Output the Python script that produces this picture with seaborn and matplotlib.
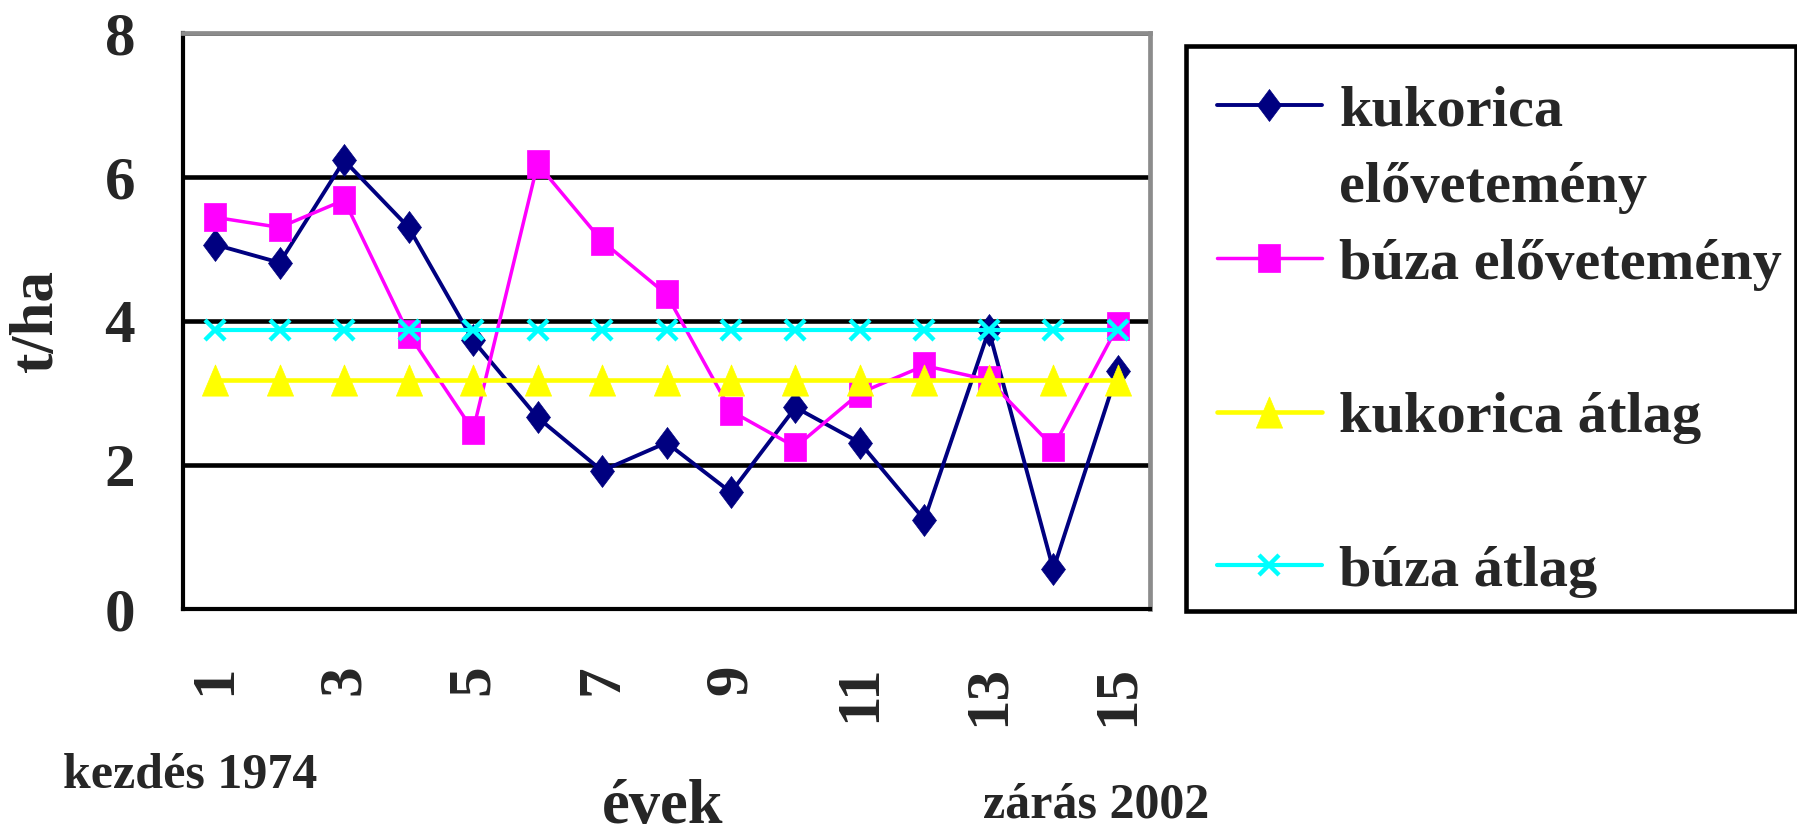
import matplotlib
matplotlib.use("Agg")
import matplotlib.pyplot as plt
import seaborn as sns
import numpy as np
from matplotlib.lines import Line2D
from matplotlib.legend_handler import HandlerLine2D

# ---- data ----
years = [1, 2, 3, 4, 5, 6, 7, 8, 9, 10, 11, 12, 13, 14, 15]
year_tick_labels = ["1", "", "3", "", "5", "", "7", "", "9", "", "11", "", "13", "", "15"]
kukorica_elovetemeny = [5.06, 4.81, 6.23, 5.30, 3.73, 2.66, 1.92, 2.31, 1.62, 2.80, 2.31, 1.24, 3.87, 0.55, 3.31]
buza_elovetemeny = [5.44, 5.30, 5.68, 3.82, 2.48, 6.18, 5.11, 4.37, 2.75, 2.25, 3.00, 3.38, 3.18, 2.25, 3.93]
kukorica_atlag = [3.18, 3.18, 3.18, 3.18, 3.18, 3.18, 3.18, 3.18, 3.18, 3.18, 3.18, 3.18, 3.18, 3.18, 3.18]
buza_atlag = [3.88, 3.88, 3.88, 3.88, 3.88, 3.88, 3.88, 3.88, 3.88, 3.88, 3.88, 3.88, 3.88, 3.88, 3.88]
y_ticks = [0, 2, 4, 6, 8]
series_labels = ["kukorica elővetemény", "búza elővetemény", "kukorica átlag", "búza átlag"]

sns.set_style("white")
plt.rcParams['font.family'] = ['Liberation Serif', 'DejaVu Serif']
plt.rcParams['font.weight'] = 'bold'

# slightly tall marker shapes, as in the (vertically stretched) original
tall_diamond = [(0, 1), (0.75, 0), (0, -1), (-0.75, 0), (0, 1)]
tall_square = [(-0.81, -1), (0.81, -1), (0.81, 1), (-0.81, 1), (-0.81, -1)]
tall_triangle = [(0, 1), (0.84, -1), (-0.84, -1), (0, 1)]

W, H = 1797, 839
fig = plt.figure(figsize=(W / 100, H / 100), dpi=100)
ax = fig.add_axes([183 / W, 1 - 609 / H, 967 / W, 576 / H])

styles = [
    (kukorica_elovetemeny, "#000080", tall_diamond, 23, 2.8),
    (buza_elovetemeny, "#FF00FF", tall_square, 19.5, 2.5),
    (kukorica_atlag, "#FFFF00", tall_triangle, 22.5, 3.3),
    (buza_atlag, "#00FFFF", "x", 14.5, 3.0),
]
handles = []
for (vals, col, mk, ms, lw), lab in zip(styles, series_labels):
    mew = 3.2 if isinstance(mk, str) else 0.5
    sns.lineplot(x=years, y=vals, ax=ax, color=col, marker=mk, markersize=ms,
                 markeredgecolor=col, markeredgewidth=mew, linewidth=lw,
                 legend=False)
    handles.append(ax.get_lines()[-1])

ax.set_xlim(0.5, 15.5)
ax.set_ylim(0, 8)

ax.set_xticks(years)
ax.set_xticklabels(year_tick_labels, rotation=90)
ax.set_xticks(np.arange(0.5, 16, 1), minor=True)
ax.tick_params(axis='x', which='major', length=0, pad=40, labelsize=44)
ax.tick_params(axis='x', which='minor', length=16, width=2.8, color='black', direction='out')
ax.set_yticks(y_ticks)
ax.tick_params(axis='y', length=14.4, width=3.0, color='black', pad=20, labelsize=44, direction='out')
for lab in ax.get_xticklabels() + ax.get_yticklabels():
    lab.set_fontweight('bold')

ax.set_axisbelow(True)
ax.yaxis.grid(True, color='black', linewidth=3.3)
ax.xaxis.grid(False)
for side in ['left', 'bottom']:
    ax.spines[side].set_color('black')
    ax.spines[side].set_linewidth(3.0)
for side in ['top', 'right']:
    ax.spines[side].set_color('#8c8c8c')
    ax.spines[side].set_linewidth(3.4)

ax.set_ylabel("t/ha", fontsize=44, fontweight='bold', va='center')
ax.yaxis.set_label_coords(-0.151, 0.5)
ax.set_xlabel("évek", fontsize=45, fontweight='bold', va='center')
ax.xaxis.set_label_coords(0.496, -0.345)

fig.text(63 / W, 1 - 788 / H, "kezdés 1974", fontsize=36, fontweight='bold', va='baseline', ha='left')
fig.text(983 / W, 1 - 818 / H, "zárás 2002", fontsize=36, fontweight='bold', va='baseline', ha='left')

blank = Line2D([], [], color='none')
leg_handles = [handles[0], blank, handles[1], blank, handles[2], blank, handles[3]]
leg_labels = ["kukorica", "elővetemény", "búza elővetemény", " ", "kukorica átlag", " ", "búza átlag"]
leg = fig.legend(leg_handles, leg_labels, loc='upper left',
                 bbox_to_anchor=(1186 / W, 1 - 46 / H), bbox_transform=fig.transFigure,
                 frameon=True, fancybox=False, edgecolor='black', framealpha=1,
                 borderpad=0.23, handlelength=2.1, handletextpad=0.3,
                 labelspacing=0.41, borderaxespad=0,
                 handler_map={Line2D: HandlerLine2D(xpad=0.3)},
                 title=" ", title_fontproperties={'size': 1},
                 prop={'size': 42, 'weight': 'bold', 'family': 'Liberation Serif'})
leg.get_frame().set_linewidth(3.3)

fig.savefig("out.png", dpi=100)
